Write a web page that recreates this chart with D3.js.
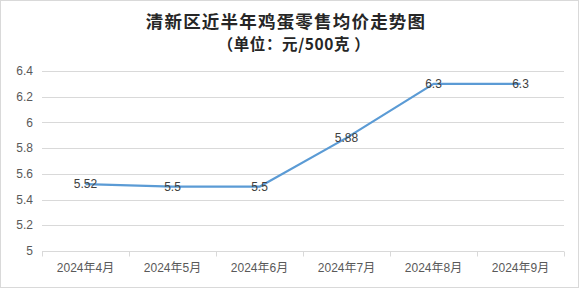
<!DOCTYPE html>
<html><head><meta charset="utf-8">
<script src="https://cdn.jsdelivr.net/npm/d3@7"></script>
<style>body{margin:0;background:#fff;}svg{display:block;}</style>
</head><body>
<svg id="c" width="584" height="292"></svg>
<script>
const categories = ["2024年4月","2024年5月","2024年6月","2024年7月","2024年8月","2024年9月"];
const prices = [5.52, 5.5, 5.5, 5.88, 6.3, 6.3];
const yTicks = [5, 5.2, 5.4, 5.6, 5.8, 6, 6.2, 6.4];
const titleLines = ["清新区近半年鸡蛋零售均价走势图", "（单位：元/500克 ）"];

(function(){
const svg = d3.select("#c");
svg.append("rect").attr("x",0.5).attr("y",0.5).attr("width",578).attr("height",287)
  .attr("fill","#fff").attr("stroke","#d9d9d9");

const pLeft=42, pRight=564, pTop=71, pBottom=251;
const x = d3.scaleBand().domain(categories).range([pLeft,pRight]);
const y = d3.scaleLinear().domain([5,6.4]).range([pBottom,pTop]);

// title
svg.append("text").attr("x",286).attr("y",28).attr("text-anchor","middle")
  .attr("font-family","'Noto Sans CJK SC'").attr("font-weight","bold").attr("font-size",17.5)
  .attr("letter-spacing",1.2).attr("fill","#262626").text(titleLines[0]);
svg.append("text").attr("x",294).attr("y",49.5).attr("text-anchor","middle")
  .attr("font-family","'Noto Sans CJK SC'").attr("font-weight","bold").attr("font-size",15.5)
  .attr("letter-spacing",0.6).attr("fill","#262626").text(titleLines[1]);

// grid
svg.append("g").selectAll("line").data(yTicks.filter(d=>d>5)).join("line")
  .attr("x1",pLeft).attr("x2",pRight).attr("y1",d=>Math.round(y(d))+0.5).attr("y2",d=>Math.round(y(d))+0.5)
  .attr("stroke","#d9d9d9").attr("stroke-width",1);

// y labels
svg.append("g").selectAll("text").data(yTicks).join("text")
  .attr("x",33).attr("y",d=>y(d)).attr("dy","0.35em").attr("text-anchor","end")
  .attr("font-family","'Liberation Sans', Arial, sans-serif").attr("font-size",12).attr("fill","#595959")
  .text(d=>d3.format("~g")(d));

// x axis
const gx = svg.append("g").attr("transform",`translate(0,${Math.round(pBottom)+0.5})`);
gx.append("line").attr("x1",pLeft).attr("x2",pRight).attr("stroke","#d9d9d9");
const bounds = categories.map(c=>x(c)).concat([pRight]);
gx.selectAll("line.tick").data(bounds).join("line").attr("class","tick")
  .attr("x1",d=>Math.round(d)+0.5).attr("x2",d=>Math.round(d)+0.5).attr("y1",0).attr("y2",5).attr("stroke","#d9d9d9");
gx.selectAll("text").data(categories).join("text")
  .attr("x",d=>x(d)+x.bandwidth()/2).attr("y",20).attr("text-anchor","middle")
  .attr("font-family","'Liberation Sans','Noto Sans CJK SC', sans-serif").attr("font-size",12).attr("fill","#595959")
  .text(d=>d);

// line
const line = d3.line().x((d,i)=>x(categories[i])+x.bandwidth()/2).y(d=>y(d));
svg.append("path").datum(prices).attr("d",line).attr("fill","none")
  .attr("stroke","#5b9bd5").attr("stroke-width",2.25).attr("stroke-linejoin","round");

// labels
svg.append("g").selectAll("text").data(prices).join("text")
  .attr("x",(d,i)=>x(categories[i])+x.bandwidth()/2).attr("y",d=>y(d)).attr("dy","0.35em")
  .attr("text-anchor","middle")
  .attr("font-family","'Liberation Sans', Arial, sans-serif").attr("font-size",12).attr("fill","#404040")
  .text(d=>d);
})();
</script>
</body></html>
